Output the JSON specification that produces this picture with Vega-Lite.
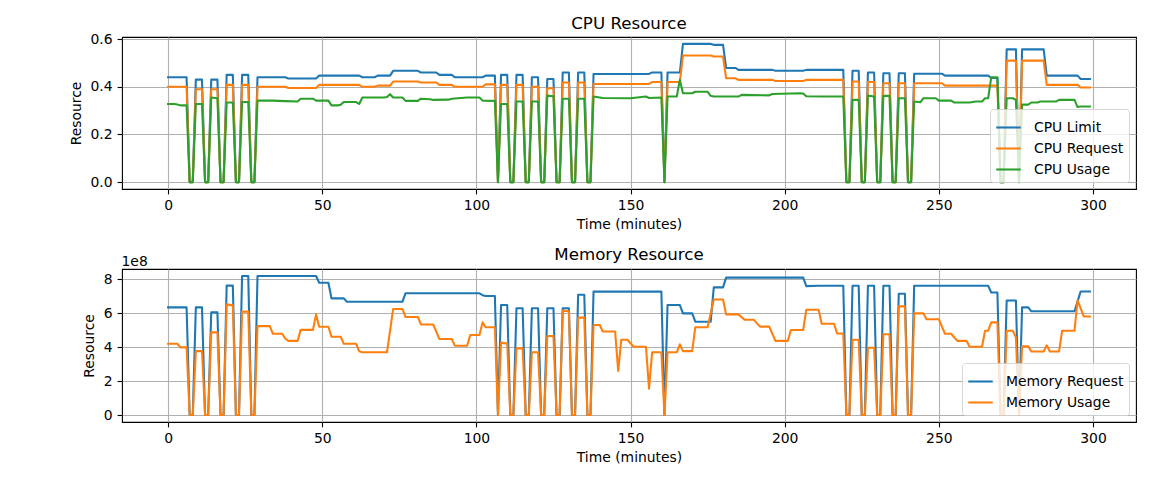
{
"$schema": "https://vega.github.io/schema/vega-lite/v6.json",
"background": "white",
"padding": {"left": 68, "top": 15, "right": 10, "bottom": 10},
"bounds": "flush",
"spacing": 80,
"resolve": {"scale": {"color": "independent"}, "legend": {"color": "independent"}},
"config": {
  "font": "DejaVu Sans",
  "view": {"stroke": "black", "strokeWidth": 1.1},
  "axis": {"domain": false, "labelFont": "DejaVu Sans", "labelFontSize": 13.9, "labelColor": "black", "titleFont": "DejaVu Sans", "titleFontSize": 13.9, "titleFontWeight": "normal", "titleColor": "black", "tickColor": "black", "tickWidth": 1.1, "tickSize": 4.9, "labelPadding": 5, "gridColor": "#b0b0b0", "gridWidth": 1.1, "gridOpacity": 1},
  "axisX": {"titlePadding": 4.5},
  "axisY": {"titlePadding": 7},
  "title": {"font": "DejaVu Sans", "fontSize": 16.67, "fontWeight": "normal", "color": "black", "frame": "group", "anchor": "middle", "baseline": "alphabetic"},
  "legend": {"orient": "bottom-right", "offset": 7, "padding": 5, "fillColor": "rgba(255,255,255,0.8)", "strokeColor": "rgba(204,204,204,0.8)", "cornerRadius": 3, "labelFont": "DejaVu Sans", "labelFontSize": 13.9, "labelColor": "black", "symbolType": "stroke", "symbolSize": 600, "symbolStrokeWidth": 2.08, "rowPadding": 0, "labelOffset": 12},
  "line": {"strokeWidth": 2.08, "strokeJoin": "round", "strokeCap": "square"}
},
"datasets": {
"cpu": [
{"t":0,"s":"CPU Limit","v":0.44},{"t":6,"s":"CPU Limit","v":0.44},{"t":7,"s":"CPU Limit","v":0},{"t":8,"s":"CPU Limit","v":0},{"t":9,"s":"CPU Limit","v":0.43},{"t":11,"s":"CPU Limit","v":0.43},{"t":12,"s":"CPU Limit","v":0},{"t":13,"s":"CPU Limit","v":0},{"t":14,"s":"CPU Limit","v":0.43},{"t":16,"s":"CPU Limit","v":0.43},{"t":17,"s":"CPU Limit","v":0},{"t":18,"s":"CPU Limit","v":0},{"t":19,"s":"CPU Limit","v":0.45},{"t":21,"s":"CPU Limit","v":0.45},{"t":22,"s":"CPU Limit","v":0},{"t":23,"s":"CPU Limit","v":0},{"t":24,"s":"CPU Limit","v":0.45},{"t":26,"s":"CPU Limit","v":0.45},{"t":27,"s":"CPU Limit","v":0},{"t":28,"s":"CPU Limit","v":0},{"t":29,"s":"CPU Limit","v":0.44},{"t":38,"s":"CPU Limit","v":0.44},{"t":39,"s":"CPU Limit","v":0.435},{"t":48,"s":"CPU Limit","v":0.435},{"t":49,"s":"CPU Limit","v":0.447},{"t":62,"s":"CPU Limit","v":0.447},{"t":63,"s":"CPU Limit","v":0.44},{"t":67,"s":"CPU Limit","v":0.44},{"t":68,"s":"CPU Limit","v":0.447},{"t":72,"s":"CPU Limit","v":0.447},{"t":73,"s":"CPU Limit","v":0.467},{"t":81,"s":"CPU Limit","v":0.467},{"t":82,"s":"CPU Limit","v":0.46},{"t":87,"s":"CPU Limit","v":0.46},{"t":88,"s":"CPU Limit","v":0.45},{"t":92,"s":"CPU Limit","v":0.45},{"t":93,"s":"CPU Limit","v":0.44},{"t":102,"s":"CPU Limit","v":0.44},{"t":103,"s":"CPU Limit","v":0.447},{"t":106,"s":"CPU Limit","v":0.447},{"t":107,"s":"CPU Limit","v":0},{"t":108,"s":"CPU Limit","v":0.45},{"t":110,"s":"CPU Limit","v":0.45},{"t":111,"s":"CPU Limit","v":0},{"t":112,"s":"CPU Limit","v":0},{"t":113,"s":"CPU Limit","v":0.45},{"t":115,"s":"CPU Limit","v":0.45},{"t":116,"s":"CPU Limit","v":0},{"t":117,"s":"CPU Limit","v":0},{"t":118,"s":"CPU Limit","v":0.44},{"t":120,"s":"CPU Limit","v":0.44},{"t":121,"s":"CPU Limit","v":0},{"t":122,"s":"CPU Limit","v":0},{"t":123,"s":"CPU Limit","v":0.433},{"t":125,"s":"CPU Limit","v":0.433},{"t":126,"s":"CPU Limit","v":0},{"t":127,"s":"CPU Limit","v":0},{"t":128,"s":"CPU Limit","v":0.46},{"t":130,"s":"CPU Limit","v":0.46},{"t":131,"s":"CPU Limit","v":0},{"t":132,"s":"CPU Limit","v":0},{"t":133,"s":"CPU Limit","v":0.46},{"t":135,"s":"CPU Limit","v":0.46},{"t":136,"s":"CPU Limit","v":0},{"t":137,"s":"CPU Limit","v":0},{"t":138,"s":"CPU Limit","v":0.454},{"t":156,"s":"CPU Limit","v":0.454},{"t":157,"s":"CPU Limit","v":0.46},{"t":160,"s":"CPU Limit","v":0.46},{"t":161,"s":"CPU Limit","v":0},{"t":162,"s":"CPU Limit","v":0.46},{"t":166,"s":"CPU Limit","v":0.46},{"t":167,"s":"CPU Limit","v":0.58},{"t":176,"s":"CPU Limit","v":0.58},{"t":177,"s":"CPU Limit","v":0.576},{"t":180,"s":"CPU Limit","v":0.576},{"t":181,"s":"CPU Limit","v":0.479},{"t":184,"s":"CPU Limit","v":0.479},{"t":185,"s":"CPU Limit","v":0.471},{"t":196,"s":"CPU Limit","v":0.471},{"t":197,"s":"CPU Limit","v":0.467},{"t":206,"s":"CPU Limit","v":0.467},{"t":207,"s":"CPU Limit","v":0.471},{"t":219,"s":"CPU Limit","v":0.471},{"t":220,"s":"CPU Limit","v":0},{"t":221,"s":"CPU Limit","v":0},{"t":222,"s":"CPU Limit","v":0.467},{"t":224,"s":"CPU Limit","v":0.467},{"t":225,"s":"CPU Limit","v":0},{"t":226,"s":"CPU Limit","v":0},{"t":227,"s":"CPU Limit","v":0.46},{"t":229,"s":"CPU Limit","v":0.46},{"t":230,"s":"CPU Limit","v":0},{"t":231,"s":"CPU Limit","v":0},{"t":232,"s":"CPU Limit","v":0.457},{"t":234,"s":"CPU Limit","v":0.457},{"t":235,"s":"CPU Limit","v":0},{"t":236,"s":"CPU Limit","v":0},{"t":237,"s":"CPU Limit","v":0.457},{"t":239,"s":"CPU Limit","v":0.457},{"t":240,"s":"CPU Limit","v":0},{"t":241,"s":"CPU Limit","v":0},{"t":242,"s":"CPU Limit","v":0.455},{"t":251,"s":"CPU Limit","v":0.455},{"t":252,"s":"CPU Limit","v":0.447},{"t":266,"s":"CPU Limit","v":0.447},{"t":267,"s":"CPU Limit","v":0.437},{"t":269,"s":"CPU Limit","v":0.437},{"t":270,"s":"CPU Limit","v":0},{"t":271,"s":"CPU Limit","v":0},{"t":272,"s":"CPU Limit","v":0.557},{"t":275,"s":"CPU Limit","v":0.557},{"t":276,"s":"CPU Limit","v":0},{"t":277,"s":"CPU Limit","v":0.557},{"t":284,"s":"CPU Limit","v":0.557},{"t":285,"s":"CPU Limit","v":0.447},{"t":295,"s":"CPU Limit","v":0.447},{"t":296,"s":"CPU Limit","v":0.433},{"t":299,"s":"CPU Limit","v":0.433},
{"t":0,"s":"CPU Request","v":0.4},{"t":6,"s":"CPU Request","v":0.4},{"t":7,"s":"CPU Request","v":0},{"t":8,"s":"CPU Request","v":0},{"t":9,"s":"CPU Request","v":0.39},{"t":11,"s":"CPU Request","v":0.39},{"t":12,"s":"CPU Request","v":0},{"t":13,"s":"CPU Request","v":0},{"t":14,"s":"CPU Request","v":0.39},{"t":16,"s":"CPU Request","v":0.39},{"t":17,"s":"CPU Request","v":0},{"t":18,"s":"CPU Request","v":0},{"t":19,"s":"CPU Request","v":0.408},{"t":21,"s":"CPU Request","v":0.408},{"t":22,"s":"CPU Request","v":0},{"t":23,"s":"CPU Request","v":0},{"t":24,"s":"CPU Request","v":0.408},{"t":26,"s":"CPU Request","v":0.408},{"t":27,"s":"CPU Request","v":0},{"t":28,"s":"CPU Request","v":0},{"t":29,"s":"CPU Request","v":0.4},{"t":38,"s":"CPU Request","v":0.4},{"t":39,"s":"CPU Request","v":0.395},{"t":48,"s":"CPU Request","v":0.395},{"t":49,"s":"CPU Request","v":0.408},{"t":62,"s":"CPU Request","v":0.408},{"t":63,"s":"CPU Request","v":0.4},{"t":67,"s":"CPU Request","v":0.4},{"t":68,"s":"CPU Request","v":0.405},{"t":72,"s":"CPU Request","v":0.405},{"t":73,"s":"CPU Request","v":0.422},{"t":81,"s":"CPU Request","v":0.422},{"t":82,"s":"CPU Request","v":0.418},{"t":87,"s":"CPU Request","v":0.418},{"t":88,"s":"CPU Request","v":0.408},{"t":92,"s":"CPU Request","v":0.408},{"t":93,"s":"CPU Request","v":0.4},{"t":102,"s":"CPU Request","v":0.4},{"t":103,"s":"CPU Request","v":0.41},{"t":106,"s":"CPU Request","v":0.41},{"t":107,"s":"CPU Request","v":0},{"t":108,"s":"CPU Request","v":0.408},{"t":110,"s":"CPU Request","v":0.408},{"t":111,"s":"CPU Request","v":0},{"t":112,"s":"CPU Request","v":0},{"t":113,"s":"CPU Request","v":0.408},{"t":115,"s":"CPU Request","v":0.408},{"t":116,"s":"CPU Request","v":0},{"t":117,"s":"CPU Request","v":0},{"t":118,"s":"CPU Request","v":0.4},{"t":120,"s":"CPU Request","v":0.4},{"t":121,"s":"CPU Request","v":0},{"t":122,"s":"CPU Request","v":0},{"t":123,"s":"CPU Request","v":0.394},{"t":125,"s":"CPU Request","v":0.394},{"t":126,"s":"CPU Request","v":0},{"t":127,"s":"CPU Request","v":0},{"t":128,"s":"CPU Request","v":0.418},{"t":130,"s":"CPU Request","v":0.418},{"t":131,"s":"CPU Request","v":0},{"t":132,"s":"CPU Request","v":0},{"t":133,"s":"CPU Request","v":0.418},{"t":135,"s":"CPU Request","v":0.418},{"t":136,"s":"CPU Request","v":0},{"t":137,"s":"CPU Request","v":0},{"t":138,"s":"CPU Request","v":0.412},{"t":156,"s":"CPU Request","v":0.412},{"t":157,"s":"CPU Request","v":0.42},{"t":160,"s":"CPU Request","v":0.42},{"t":161,"s":"CPU Request","v":0},{"t":162,"s":"CPU Request","v":0.42},{"t":166,"s":"CPU Request","v":0.42},{"t":167,"s":"CPU Request","v":0.531},{"t":176,"s":"CPU Request","v":0.531},{"t":177,"s":"CPU Request","v":0.527},{"t":180,"s":"CPU Request","v":0.527},{"t":181,"s":"CPU Request","v":0.436},{"t":184,"s":"CPU Request","v":0.436},{"t":185,"s":"CPU Request","v":0.429},{"t":196,"s":"CPU Request","v":0.429},{"t":197,"s":"CPU Request","v":0.424},{"t":206,"s":"CPU Request","v":0.424},{"t":207,"s":"CPU Request","v":0.429},{"t":219,"s":"CPU Request","v":0.429},{"t":220,"s":"CPU Request","v":0},{"t":221,"s":"CPU Request","v":0},{"t":222,"s":"CPU Request","v":0.422},{"t":224,"s":"CPU Request","v":0.422},{"t":225,"s":"CPU Request","v":0},{"t":226,"s":"CPU Request","v":0},{"t":227,"s":"CPU Request","v":0.42},{"t":229,"s":"CPU Request","v":0.42},{"t":230,"s":"CPU Request","v":0},{"t":231,"s":"CPU Request","v":0},{"t":232,"s":"CPU Request","v":0.415},{"t":234,"s":"CPU Request","v":0.415},{"t":235,"s":"CPU Request","v":0},{"t":236,"s":"CPU Request","v":0},{"t":237,"s":"CPU Request","v":0.415},{"t":239,"s":"CPU Request","v":0.415},{"t":240,"s":"CPU Request","v":0},{"t":241,"s":"CPU Request","v":0},{"t":242,"s":"CPU Request","v":0.415},{"t":251,"s":"CPU Request","v":0.415},{"t":252,"s":"CPU Request","v":0.405},{"t":269,"s":"CPU Request","v":0.405},{"t":270,"s":"CPU Request","v":0},{"t":271,"s":"CPU Request","v":0},{"t":272,"s":"CPU Request","v":0.51},{"t":275,"s":"CPU Request","v":0.51},{"t":276,"s":"CPU Request","v":0},{"t":277,"s":"CPU Request","v":0.51},{"t":284,"s":"CPU Request","v":0.51},{"t":285,"s":"CPU Request","v":0.408},{"t":295,"s":"CPU Request","v":0.408},{"t":296,"s":"CPU Request","v":0.397},{"t":299,"s":"CPU Request","v":0.397},
{"t":0,"s":"CPU Usage","v":0.328},{"t":2,"s":"CPU Usage","v":0.328},{"t":3,"s":"CPU Usage","v":0.326},{"t":4,"s":"CPU Usage","v":0.322},{"t":6,"s":"CPU Usage","v":0.322},{"t":7,"s":"CPU Usage","v":0},{"t":8,"s":"CPU Usage","v":0},{"t":9,"s":"CPU Usage","v":0.328},{"t":11,"s":"CPU Usage","v":0.328},{"t":12,"s":"CPU Usage","v":0},{"t":13,"s":"CPU Usage","v":0},{"t":14,"s":"CPU Usage","v":0.355},{"t":16,"s":"CPU Usage","v":0.352},{"t":17,"s":"CPU Usage","v":0},{"t":18,"s":"CPU Usage","v":0},{"t":19,"s":"CPU Usage","v":0.334},{"t":21,"s":"CPU Usage","v":0.334},{"t":22,"s":"CPU Usage","v":0},{"t":23,"s":"CPU Usage","v":0},{"t":24,"s":"CPU Usage","v":0.336},{"t":26,"s":"CPU Usage","v":0.336},{"t":27,"s":"CPU Usage","v":0},{"t":28,"s":"CPU Usage","v":0},{"t":29,"s":"CPU Usage","v":0.342},{"t":34,"s":"CPU Usage","v":0.342},{"t":38,"s":"CPU Usage","v":0.34},{"t":42,"s":"CPU Usage","v":0.338},{"t":43,"s":"CPU Usage","v":0.35},{"t":47,"s":"CPU Usage","v":0.35},{"t":48,"s":"CPU Usage","v":0.342},{"t":52,"s":"CPU Usage","v":0.342},{"t":53,"s":"CPU Usage","v":0.322},{"t":55,"s":"CPU Usage","v":0.322},{"t":56,"s":"CPU Usage","v":0.325},{"t":57,"s":"CPU Usage","v":0.336},{"t":61,"s":"CPU Usage","v":0.336},{"t":62,"s":"CPU Usage","v":0.328},{"t":63,"s":"CPU Usage","v":0.355},{"t":70,"s":"CPU Usage","v":0.355},{"t":71,"s":"CPU Usage","v":0.357},{"t":72,"s":"CPU Usage","v":0.369},{"t":73,"s":"CPU Usage","v":0.355},{"t":76,"s":"CPU Usage","v":0.355},{"t":77,"s":"CPU Usage","v":0.341},{"t":81,"s":"CPU Usage","v":0.341},{"t":82,"s":"CPU Usage","v":0.35},{"t":85,"s":"CPU Usage","v":0.348},{"t":86,"s":"CPU Usage","v":0.345},{"t":91,"s":"CPU Usage","v":0.346},{"t":92,"s":"CPU Usage","v":0.35},{"t":97,"s":"CPU Usage","v":0.355},{"t":101,"s":"CPU Usage","v":0.355},{"t":102,"s":"CPU Usage","v":0.342},{"t":106,"s":"CPU Usage","v":0.341},{"t":107,"s":"CPU Usage","v":0},{"t":108,"s":"CPU Usage","v":0.328},{"t":110,"s":"CPU Usage","v":0.328},{"t":111,"s":"CPU Usage","v":0},{"t":112,"s":"CPU Usage","v":0},{"t":113,"s":"CPU Usage","v":0.338},{"t":115,"s":"CPU Usage","v":0.338},{"t":116,"s":"CPU Usage","v":0},{"t":117,"s":"CPU Usage","v":0},{"t":118,"s":"CPU Usage","v":0.338},{"t":120,"s":"CPU Usage","v":0.338},{"t":121,"s":"CPU Usage","v":0},{"t":122,"s":"CPU Usage","v":0},{"t":123,"s":"CPU Usage","v":0.363},{"t":125,"s":"CPU Usage","v":0.36},{"t":126,"s":"CPU Usage","v":0},{"t":127,"s":"CPU Usage","v":0},{"t":128,"s":"CPU Usage","v":0.35},{"t":130,"s":"CPU Usage","v":0.35},{"t":131,"s":"CPU Usage","v":0},{"t":132,"s":"CPU Usage","v":0},{"t":133,"s":"CPU Usage","v":0.35},{"t":135,"s":"CPU Usage","v":0.35},{"t":136,"s":"CPU Usage","v":0},{"t":137,"s":"CPU Usage","v":0},{"t":138,"s":"CPU Usage","v":0.359},{"t":141,"s":"CPU Usage","v":0.353},{"t":150,"s":"CPU Usage","v":0.352},{"t":155,"s":"CPU Usage","v":0.359},{"t":156,"s":"CPU Usage","v":0.353},{"t":160,"s":"CPU Usage","v":0.355},{"t":161,"s":"CPU Usage","v":0},{"t":162,"s":"CPU Usage","v":0.359},{"t":165,"s":"CPU Usage","v":0.359},{"t":166,"s":"CPU Usage","v":0.429},{"t":167,"s":"CPU Usage","v":0.373},{"t":170,"s":"CPU Usage","v":0.373},{"t":171,"s":"CPU Usage","v":0.379},{"t":175,"s":"CPU Usage","v":0.379},{"t":176,"s":"CPU Usage","v":0.362},{"t":177,"s":"CPU Usage","v":0.359},{"t":185,"s":"CPU Usage","v":0.359},{"t":186,"s":"CPU Usage","v":0.366},{"t":195,"s":"CPU Usage","v":0.364},{"t":196,"s":"CPU Usage","v":0.37},{"t":205,"s":"CPU Usage","v":0.373},{"t":206,"s":"CPU Usage","v":0.372},{"t":207,"s":"CPU Usage","v":0.36},{"t":212,"s":"CPU Usage","v":0.359},{"t":219,"s":"CPU Usage","v":0.359},{"t":220,"s":"CPU Usage","v":0},{"t":221,"s":"CPU Usage","v":0},{"t":222,"s":"CPU Usage","v":0.345},{"t":224,"s":"CPU Usage","v":0.345},{"t":225,"s":"CPU Usage","v":0},{"t":226,"s":"CPU Usage","v":0},{"t":227,"s":"CPU Usage","v":0.363},{"t":229,"s":"CPU Usage","v":0.359},{"t":230,"s":"CPU Usage","v":0},{"t":231,"s":"CPU Usage","v":0},{"t":232,"s":"CPU Usage","v":0.362},{"t":234,"s":"CPU Usage","v":0.362},{"t":235,"s":"CPU Usage","v":0},{"t":236,"s":"CPU Usage","v":0},{"t":237,"s":"CPU Usage","v":0.352},{"t":239,"s":"CPU Usage","v":0.352},{"t":240,"s":"CPU Usage","v":0},{"t":241,"s":"CPU Usage","v":0},{"t":242,"s":"CPU Usage","v":0.338},{"t":244,"s":"CPU Usage","v":0.335},{"t":245,"s":"CPU Usage","v":0.352},{"t":249,"s":"CPU Usage","v":0.352},{"t":250,"s":"CPU Usage","v":0.342},{"t":254,"s":"CPU Usage","v":0.342},{"t":255,"s":"CPU Usage","v":0.334},{"t":260,"s":"CPU Usage","v":0.334},{"t":262,"s":"CPU Usage","v":0.338},{"t":264,"s":"CPU Usage","v":0.338},{"t":265,"s":"CPU Usage","v":0.352},{"t":266,"s":"CPU Usage","v":0.352},{"t":267,"s":"CPU Usage","v":0.44},{"t":269,"s":"CPU Usage","v":0.44},{"t":270,"s":"CPU Usage","v":0},{"t":271,"s":"CPU Usage","v":0},{"t":272,"s":"CPU Usage","v":0.352},{"t":274,"s":"CPU Usage","v":0.352},{"t":275,"s":"CPU Usage","v":0.345},{"t":276,"s":"CPU Usage","v":0},{"t":277,"s":"CPU Usage","v":0.325},{"t":279,"s":"CPU Usage","v":0.325},{"t":280,"s":"CPU Usage","v":0.334},{"t":282,"s":"CPU Usage","v":0.334},{"t":283,"s":"CPU Usage","v":0.338},{"t":288,"s":"CPU Usage","v":0.338},{"t":289,"s":"CPU Usage","v":0.345},{"t":294,"s":"CPU Usage","v":0.345},{"t":295,"s":"CPU Usage","v":0.315},{"t":296,"s":"CPU Usage","v":0.317},{"t":299,"s":"CPU Usage","v":0.317}
],
"mem": [
{"t":0,"s":"Memory Request","v":6.33e8},{"t":6,"s":"Memory Request","v":6.33e8},{"t":7,"s":"Memory Request","v":0},{"t":8,"s":"Memory Request","v":0},{"t":9,"s":"Memory Request","v":6.33e8},{"t":11,"s":"Memory Request","v":6.33e8},{"t":12,"s":"Memory Request","v":0},{"t":13,"s":"Memory Request","v":0},{"t":14,"s":"Memory Request","v":6.04e8},{"t":16,"s":"Memory Request","v":6.04e8},{"t":17,"s":"Memory Request","v":0},{"t":18,"s":"Memory Request","v":0},{"t":19,"s":"Memory Request","v":7.61e8},{"t":21,"s":"Memory Request","v":7.61e8},{"t":22,"s":"Memory Request","v":0},{"t":23,"s":"Memory Request","v":0},{"t":24,"s":"Memory Request","v":8.18e8},{"t":26,"s":"Memory Request","v":8.18e8},{"t":27,"s":"Memory Request","v":0},{"t":28,"s":"Memory Request","v":0},{"t":29,"s":"Memory Request","v":8.18e8},{"t":48,"s":"Memory Request","v":8.18e8},{"t":49,"s":"Memory Request","v":7.78e8},{"t":52,"s":"Memory Request","v":7.78e8},{"t":53,"s":"Memory Request","v":6.86e8},{"t":57,"s":"Memory Request","v":6.86e8},{"t":58,"s":"Memory Request","v":6.66e8},{"t":76,"s":"Memory Request","v":6.66e8},{"t":77,"s":"Memory Request","v":7.16e8},{"t":101,"s":"Memory Request","v":7.16e8},{"t":102,"s":"Memory Request","v":7.05e8},{"t":103,"s":"Memory Request","v":7.0e8},{"t":106,"s":"Memory Request","v":7.0e8},{"t":107,"s":"Memory Request","v":0},{"t":108,"s":"Memory Request","v":6.47e8},{"t":110,"s":"Memory Request","v":6.47e8},{"t":111,"s":"Memory Request","v":0},{"t":112,"s":"Memory Request","v":0},{"t":113,"s":"Memory Request","v":6.28e8},{"t":115,"s":"Memory Request","v":6.28e8},{"t":116,"s":"Memory Request","v":0},{"t":117,"s":"Memory Request","v":0},{"t":118,"s":"Memory Request","v":6.28e8},{"t":120,"s":"Memory Request","v":6.28e8},{"t":121,"s":"Memory Request","v":0},{"t":122,"s":"Memory Request","v":0},{"t":123,"s":"Memory Request","v":6.28e8},{"t":125,"s":"Memory Request","v":6.28e8},{"t":126,"s":"Memory Request","v":0},{"t":127,"s":"Memory Request","v":0},{"t":128,"s":"Memory Request","v":6.28e8},{"t":130,"s":"Memory Request","v":6.28e8},{"t":131,"s":"Memory Request","v":0},{"t":132,"s":"Memory Request","v":0},{"t":133,"s":"Memory Request","v":7.07e8},{"t":135,"s":"Memory Request","v":7.07e8},{"t":136,"s":"Memory Request","v":0},{"t":137,"s":"Memory Request","v":0},{"t":138,"s":"Memory Request","v":7.26e8},{"t":160,"s":"Memory Request","v":7.26e8},{"t":161,"s":"Memory Request","v":0},{"t":162,"s":"Memory Request","v":6.47e8},{"t":166,"s":"Memory Request","v":6.47e8},{"t":167,"s":"Memory Request","v":5.98e8},{"t":170,"s":"Memory Request","v":5.98e8},{"t":171,"s":"Memory Request","v":5.49e8},{"t":176,"s":"Memory Request","v":5.49e8},{"t":177,"s":"Memory Request","v":7.51e8},{"t":180,"s":"Memory Request","v":7.51e8},{"t":181,"s":"Memory Request","v":8.08e8},{"t":206,"s":"Memory Request","v":8.08e8},{"t":207,"s":"Memory Request","v":7.58e8},{"t":211,"s":"Memory Request","v":7.6e8},{"t":219,"s":"Memory Request","v":7.6e8},{"t":220,"s":"Memory Request","v":0},{"t":221,"s":"Memory Request","v":0},{"t":222,"s":"Memory Request","v":7.6e8},{"t":224,"s":"Memory Request","v":7.6e8},{"t":225,"s":"Memory Request","v":0},{"t":226,"s":"Memory Request","v":0},{"t":227,"s":"Memory Request","v":7.6e8},{"t":229,"s":"Memory Request","v":7.6e8},{"t":230,"s":"Memory Request","v":0},{"t":231,"s":"Memory Request","v":0},{"t":232,"s":"Memory Request","v":7.6e8},{"t":234,"s":"Memory Request","v":7.6e8},{"t":235,"s":"Memory Request","v":0},{"t":236,"s":"Memory Request","v":0},{"t":237,"s":"Memory Request","v":7.13e8},{"t":239,"s":"Memory Request","v":7.13e8},{"t":240,"s":"Memory Request","v":0},{"t":241,"s":"Memory Request","v":0},{"t":242,"s":"Memory Request","v":7.6e8},{"t":266,"s":"Memory Request","v":7.6e8},{"t":267,"s":"Memory Request","v":7.21e8},{"t":269,"s":"Memory Request","v":7.21e8},{"t":270,"s":"Memory Request","v":0},{"t":271,"s":"Memory Request","v":0},{"t":272,"s":"Memory Request","v":6.74e8},{"t":275,"s":"Memory Request","v":6.74e8},{"t":276,"s":"Memory Request","v":0},{"t":277,"s":"Memory Request","v":6.33e8},{"t":279,"s":"Memory Request","v":6.33e8},{"t":280,"s":"Memory Request","v":6.1e8},{"t":294,"s":"Memory Request","v":6.1e8},{"t":296,"s":"Memory Request","v":7.27e8},{"t":299,"s":"Memory Request","v":7.27e8},
{"t":0,"s":"Memory Usage","v":4.19e8},{"t":3,"s":"Memory Usage","v":4.19e8},{"t":4,"s":"Memory Usage","v":3.98e8},{"t":6,"s":"Memory Usage","v":3.98e8},{"t":7,"s":"Memory Usage","v":0},{"t":8,"s":"Memory Usage","v":0},{"t":9,"s":"Memory Usage","v":3.76e8},{"t":11,"s":"Memory Usage","v":3.76e8},{"t":12,"s":"Memory Usage","v":0},{"t":13,"s":"Memory Usage","v":0},{"t":14,"s":"Memory Usage","v":4.86e8},{"t":16,"s":"Memory Usage","v":4.86e8},{"t":17,"s":"Memory Usage","v":0},{"t":18,"s":"Memory Usage","v":0},{"t":19,"s":"Memory Usage","v":6.51e8},{"t":21,"s":"Memory Usage","v":6.45e8},{"t":22,"s":"Memory Usage","v":0},{"t":23,"s":"Memory Usage","v":0},{"t":24,"s":"Memory Usage","v":6.08e8},{"t":26,"s":"Memory Usage","v":6.08e8},{"t":27,"s":"Memory Usage","v":0},{"t":28,"s":"Memory Usage","v":0},{"t":29,"s":"Memory Usage","v":5.23e8},{"t":33,"s":"Memory Usage","v":5.23e8},{"t":34,"s":"Memory Usage","v":4.78e8},{"t":37,"s":"Memory Usage","v":4.78e8},{"t":38,"s":"Memory Usage","v":4.5e8},{"t":39,"s":"Memory Usage","v":4.36e8},{"t":42,"s":"Memory Usage","v":4.36e8},{"t":43,"s":"Memory Usage","v":5.01e8},{"t":47,"s":"Memory Usage","v":5.01e8},{"t":48,"s":"Memory Usage","v":5.92e8},{"t":49,"s":"Memory Usage","v":5.19e8},{"t":52,"s":"Memory Usage","v":5.19e8},{"t":53,"s":"Memory Usage","v":4.6e8},{"t":56,"s":"Memory Usage","v":4.6e8},{"t":57,"s":"Memory Usage","v":4.19e8},{"t":61,"s":"Memory Usage","v":4.19e8},{"t":62,"s":"Memory Usage","v":3.75e8},{"t":63,"s":"Memory Usage","v":3.69e8},{"t":71,"s":"Memory Usage","v":3.69e8},{"t":73,"s":"Memory Usage","v":6.24e8},{"t":76,"s":"Memory Usage","v":6.24e8},{"t":77,"s":"Memory Usage","v":5.77e8},{"t":81,"s":"Memory Usage","v":5.77e8},{"t":82,"s":"Memory Usage","v":5.33e8},{"t":86,"s":"Memory Usage","v":5.33e8},{"t":88,"s":"Memory Usage","v":4.47e8},{"t":92,"s":"Memory Usage","v":4.47e8},{"t":93,"s":"Memory Usage","v":4.08e8},{"t":97,"s":"Memory Usage","v":4.08e8},{"t":98,"s":"Memory Usage","v":4.71e8},{"t":101,"s":"Memory Usage","v":4.71e8},{"t":102,"s":"Memory Usage","v":5.45e8},{"t":103,"s":"Memory Usage","v":5.16e8},{"t":106,"s":"Memory Usage","v":5.16e8},{"t":107,"s":"Memory Usage","v":0},{"t":108,"s":"Memory Usage","v":4.26e8},{"t":110,"s":"Memory Usage","v":4.2e8},{"t":111,"s":"Memory Usage","v":0},{"t":112,"s":"Memory Usage","v":0},{"t":113,"s":"Memory Usage","v":3.92e8},{"t":115,"s":"Memory Usage","v":3.92e8},{"t":116,"s":"Memory Usage","v":0},{"t":117,"s":"Memory Usage","v":0},{"t":118,"s":"Memory Usage","v":3.69e8},{"t":120,"s":"Memory Usage","v":3.69e8},{"t":121,"s":"Memory Usage","v":0},{"t":122,"s":"Memory Usage","v":0},{"t":123,"s":"Memory Usage","v":4.65e8},{"t":125,"s":"Memory Usage","v":4.65e8},{"t":126,"s":"Memory Usage","v":0},{"t":127,"s":"Memory Usage","v":0},{"t":128,"s":"Memory Usage","v":6.14e8},{"t":130,"s":"Memory Usage","v":6.1e8},{"t":131,"s":"Memory Usage","v":0},{"t":132,"s":"Memory Usage","v":0},{"t":133,"s":"Memory Usage","v":5.73e8},{"t":135,"s":"Memory Usage","v":5.73e8},{"t":136,"s":"Memory Usage","v":0},{"t":137,"s":"Memory Usage","v":0},{"t":138,"s":"Memory Usage","v":5.3e8},{"t":140,"s":"Memory Usage","v":5.3e8},{"t":141,"s":"Memory Usage","v":4.91e8},{"t":145,"s":"Memory Usage","v":4.91e8},{"t":146,"s":"Memory Usage","v":2.6e8},{"t":147,"s":"Memory Usage","v":4.43e8},{"t":149,"s":"Memory Usage","v":4.43e8},{"t":151,"s":"Memory Usage","v":4.02e8},{"t":155,"s":"Memory Usage","v":4.02e8},{"t":156,"s":"Memory Usage","v":1.55e8},{"t":157,"s":"Memory Usage","v":3.69e8},{"t":160,"s":"Memory Usage","v":3.69e8},{"t":161,"s":"Memory Usage","v":0},{"t":162,"s":"Memory Usage","v":3.69e8},{"t":165,"s":"Memory Usage","v":3.69e8},{"t":166,"s":"Memory Usage","v":4.16e8},{"t":167,"s":"Memory Usage","v":3.76e8},{"t":170,"s":"Memory Usage","v":3.76e8},{"t":171,"s":"Memory Usage","v":5.16e8},{"t":175,"s":"Memory Usage","v":5.16e8},{"t":177,"s":"Memory Usage","v":6.8e8},{"t":180,"s":"Memory Usage","v":6.8e8},{"t":181,"s":"Memory Usage","v":5.92e8},{"t":185,"s":"Memory Usage","v":5.92e8},{"t":187,"s":"Memory Usage","v":5.6e8},{"t":190,"s":"Memory Usage","v":5.6e8},{"t":192,"s":"Memory Usage","v":5.2e8},{"t":195,"s":"Memory Usage","v":5.2e8},{"t":197,"s":"Memory Usage","v":4.36e8},{"t":201,"s":"Memory Usage","v":4.36e8},{"t":202,"s":"Memory Usage","v":5.0e8},{"t":206,"s":"Memory Usage","v":5.0e8},{"t":207,"s":"Memory Usage","v":6.19e8},{"t":211,"s":"Memory Usage","v":6.19e8},{"t":212,"s":"Memory Usage","v":5.37e8},{"t":216,"s":"Memory Usage","v":5.37e8},{"t":217,"s":"Memory Usage","v":4.8e8},{"t":219,"s":"Memory Usage","v":4.8e8},{"t":220,"s":"Memory Usage","v":0},{"t":221,"s":"Memory Usage","v":0},{"t":222,"s":"Memory Usage","v":4.43e8},{"t":224,"s":"Memory Usage","v":4.43e8},{"t":225,"s":"Memory Usage","v":0},{"t":226,"s":"Memory Usage","v":0},{"t":227,"s":"Memory Usage","v":3.96e8},{"t":229,"s":"Memory Usage","v":3.96e8},{"t":230,"s":"Memory Usage","v":0},{"t":231,"s":"Memory Usage","v":0},{"t":232,"s":"Memory Usage","v":4.75e8},{"t":234,"s":"Memory Usage","v":4.75e8},{"t":235,"s":"Memory Usage","v":0},{"t":236,"s":"Memory Usage","v":0},{"t":237,"s":"Memory Usage","v":6.39e8},{"t":239,"s":"Memory Usage","v":6.39e8},{"t":240,"s":"Memory Usage","v":0},{"t":241,"s":"Memory Usage","v":0},{"t":242,"s":"Memory Usage","v":5.98e8},{"t":245,"s":"Memory Usage","v":5.98e8},{"t":246,"s":"Memory Usage","v":5.63e8},{"t":250,"s":"Memory Usage","v":5.63e8},{"t":252,"s":"Memory Usage","v":4.78e8},{"t":254,"s":"Memory Usage","v":4.78e8},{"t":256,"s":"Memory Usage","v":4.36e8},{"t":259,"s":"Memory Usage","v":4.36e8},{"t":260,"s":"Memory Usage","v":4.02e8},{"t":264,"s":"Memory Usage","v":4.02e8},{"t":265,"s":"Memory Usage","v":4.96e8},{"t":266,"s":"Memory Usage","v":4.96e8},{"t":267,"s":"Memory Usage","v":5.45e8},{"t":269,"s":"Memory Usage","v":5.45e8},{"t":270,"s":"Memory Usage","v":0},{"t":271,"s":"Memory Usage","v":0},{"t":272,"s":"Memory Usage","v":4.96e8},{"t":274,"s":"Memory Usage","v":4.96e8},{"t":275,"s":"Memory Usage","v":4.57e8},{"t":276,"s":"Memory Usage","v":0},{"t":277,"s":"Memory Usage","v":4.04e8},{"t":279,"s":"Memory Usage","v":4.04e8},{"t":280,"s":"Memory Usage","v":3.74e8},{"t":284,"s":"Memory Usage","v":3.74e8},{"t":285,"s":"Memory Usage","v":4.1e8},{"t":286,"s":"Memory Usage","v":3.74e8},{"t":289,"s":"Memory Usage","v":3.74e8},{"t":290,"s":"Memory Usage","v":4.96e8},{"t":294,"s":"Memory Usage","v":4.96e8},{"t":295,"s":"Memory Usage","v":6.74e8},{"t":297,"s":"Memory Usage","v":5.8e8},{"t":299,"s":"Memory Usage","v":5.8e8}
]
},
"vconcat": [
{
  "title": {"text": "CPU Resource", "offset": -0.4},
  "width": 1014,
  "height": 152,
  "data": {"name": "cpu"},
  "mark": {"type": "line"},
  "encoding": {
    "x": {"field": "t", "type": "quantitative", "scale": {"domain": [-14.95, 313.95], "nice": false, "zero": false}, "axis": {"values": [0, 50, 100, 150, 200, 250, 300], "format": "d", "title": "Time (minutes)", "labelFlush": false, "labelOverlap": false}},
    "y": {"field": "v", "type": "quantitative", "scale": {"domain": [-0.029, 0.609], "nice": false, "zero": false}, "axis": {"values": [0, 0.2, 0.4, 0.6], "format": ".1f", "title": "Resource"}},
    "color": {"field": "s", "type": "nominal", "scale": {"domain": ["CPU Limit", "CPU Request", "CPU Usage"], "range": ["#1f77b4", "#ff7f0e", "#2ca02c"]}, "legend": {"title": null}}
  }
},
{
  "title": {"text": "Memory Resource", "offset": -9.6},
  "width": 1014,
  "height": 153,
  "data": {"name": "mem"},
  "encoding": {
    "x": {"field": "t", "type": "quantitative", "scale": {"domain": [-14.95, 313.95], "nice": false, "zero": false}, "axis": {"values": [0, 50, 100, 150, 200, 250, 300], "format": "d", "title": "Time (minutes)", "labelFlush": false, "labelOverlap": false}}
  },
  "layer": [
    {
      "mark": {"type": "line"},
      "encoding": {
        "y": {"field": "v", "type": "quantitative", "scale": {"domain": [-0.409e8, 8.589e8], "nice": false, "zero": false}, "axis": {"values": [0, 2e8, 4e8, 6e8, 8e8], "labelExpr": "format(datum.value / 1e8, 'd')", "title": "Resource"}},
        "color": {"field": "s", "type": "nominal", "scale": {"domain": ["Memory Request", "Memory Usage"], "range": ["#1f77b4", "#ff7f0e"]}, "legend": {"title": null}}
      }
    },
    {
      "mark": {"type": "line", "strokeOpacity": 0},
      "encoding": {
        "y": {"field": "v", "type": "quantitative", "scale": {"domain": [-0.409e8, 8.589e8], "nice": false, "zero": false}, "axis": {"orient": "left", "title": "1e8", "labels": false, "ticks": false, "grid": false, "domain": false, "titleAngle": 0, "titleAlign": "left", "titleBaseline": "alphabetic", "titleX": -1, "titleY": -3.5}},
        "detail": {"field": "s"}
      }
    }
  ],
  "resolve": {"axis": {"y": "independent"}}
}
]
}
